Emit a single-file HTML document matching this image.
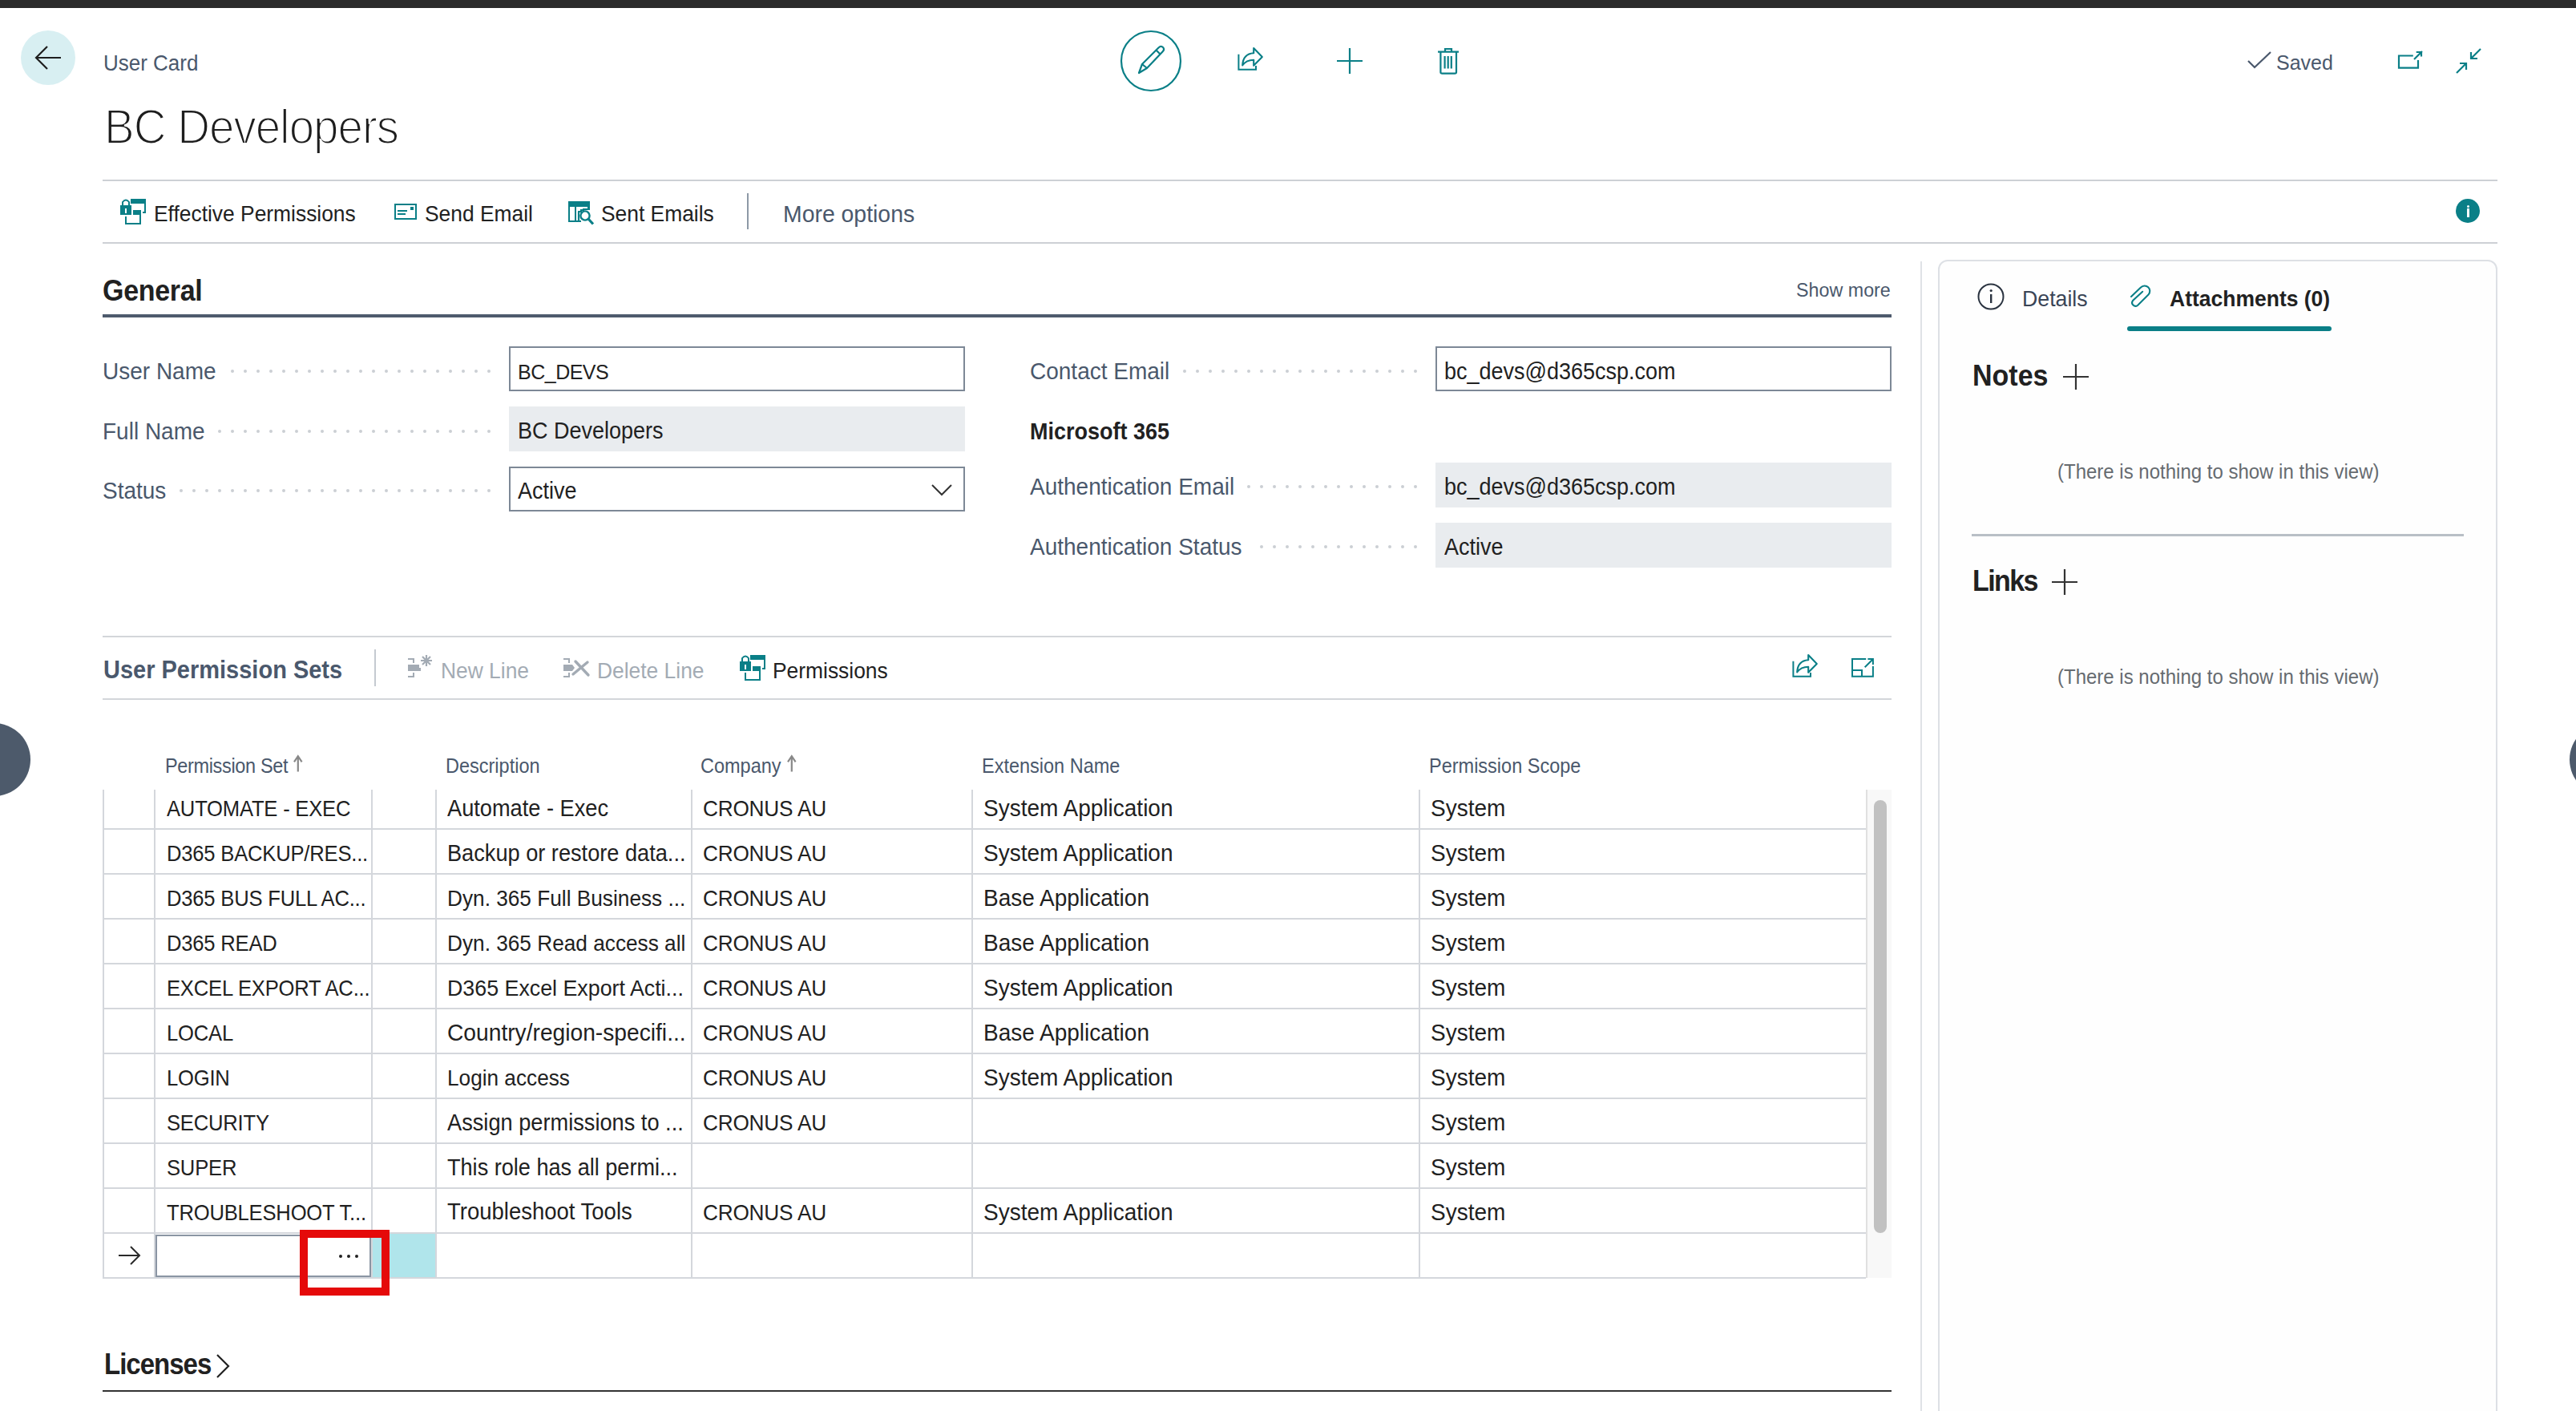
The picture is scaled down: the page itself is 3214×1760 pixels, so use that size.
<!DOCTYPE html>
<html><head><meta charset="utf-8"><title>User Card</title>
<style>
html,body{margin:0;padding:0;background:#fff;}
body{width:3214px;height:1760px;position:relative;overflow:hidden;font-family:"Liberation Sans",sans-serif;}
.t{position:absolute;white-space:nowrap;line-height:1;}
.r{position:absolute;}
svg.r{overflow:visible}
</style></head><body>
<div class="r" style="left:0px;top:0px;width:3214px;height:10px;background:#2b2b2b;"></div>
<div class="r" style="left:26px;top:38px;width:68px;height:68px;border-radius:50%;background:#d8eff2"></div>
<svg class="r" style="left:40px;top:54px" width="40" height="36" viewBox="0 0 40 36"><path d="M6 18 H36 M19 4 L5 18 L19 32" fill="none" stroke="#1f1f1f" stroke-width="2.2"/></svg>
<div class="t" style="left:129.0px;top:64.7px;font-size:27.56px;color:#4a586c;font-weight:400;transform:scaleX(0.9434);transform-origin:0 0;">User Card</div>
<div class="t" style="left:129.5px;top:128.3px;font-size:60.74px;color:#1e1e1e;font-weight:400;letter-spacing:-1.07px;transform:scaleX(0.9302);transform-origin:0 0;-webkit-text-stroke:2px #fff;">BC Developers</div>
<svg class="r" style="left:1396px;top:36px" width="80" height="80" viewBox="0 0 80 80"><circle cx="40" cy="40" r="37" fill="none" stroke="#0a7f87" stroke-width="2.2"/><path d="M25 55 L29 44 L49.5 23.5 Q52.5 20.5 55 23 Q57.5 25.5 54.5 28.5 L35 49 Z M29 44 L35 49 M46.5 26.5 L52 32" fill="none" stroke="#0a7f87" stroke-width="2.2" stroke-linejoin="round"/></svg>
<svg class="r" style="left:1540px;top:57px" width="40" height="36" viewBox="0 0 40 36"><path d="M5.4 10.8 V29.7 H27 V25" fill="none" stroke="#0a7f87" stroke-width="2"/><path d="M10.2 24.5 Q11 10 24.2 9.3 V3 L34.8 14 L24.2 24.8 V17.7 Q15 17.7 10.2 24.5 Z" fill="none" stroke="#0a7f87" stroke-width="2.1" stroke-linejoin="round"/></svg>
<svg class="r" style="left:1664px;top:56px" width="40" height="40" viewBox="0 0 40 40"><path d="M20 4 V36 M4 20 H36" fill="none" stroke="#0a7f87" stroke-width="2.2"/></svg>
<svg class="r" style="left:1790px;top:56px" width="36" height="40" viewBox="0 0 36 40"><path d="M4 8.7 H30 M13 8.7 V5 H21 V8.7 M7.4 8.7 V34 Q7.4 35.7 9.4 35.7 H25 Q27 35.7 27 34 V8.7 M12.6 14 V29.6 M16.7 14 V29.6 M20.8 14 V29.6" fill="none" stroke="#0a7f87" stroke-width="2.2"/></svg>
<svg class="r" style="left:2802px;top:62px" width="36" height="28" viewBox="0 0 36 28"><path d="M3 14 L11 22 L31 3" fill="none" stroke="#4a586c" stroke-width="2.2"/></svg>
<div class="t" style="left:2840.0px;top:64.5px;font-size:26.50px;color:#4a586c;font-weight:400;transform:scaleX(0.9434);transform-origin:0 0;">Saved</div>
<svg class="r" style="left:2988px;top:60px" width="40" height="30" viewBox="0 0 40 30"><path d="M22.8 9.5 H5 V24.6 H29 V15 M24 14 L34 4 M26.7 5 H33 V10.4" fill="none" stroke="#0a7f87" stroke-width="2.2"/></svg>
<svg class="r" style="left:3060px;top:56px" width="40" height="40" viewBox="0 0 40 40"><path d="M5 35 L17 23 M9 23 H17 V31 M35 5 L23 17 M23 9 V17 H31" fill="none" stroke="#0a7f87" stroke-width="2.2"/></svg>
<div class="r" style="left:128px;top:224px;width:2988px;height:2px;background:#cdd0d5;"></div>
<div class="r" style="left:128px;top:302px;width:2988px;height:2px;background:#cdd0d5;"></div>
<svg class="r" style="left:144px;top:242px" width="44" height="44" viewBox="0 0 44 44"><g transform="translate(6,14)" fill="#0a7f87"><rect x="0" y="0" width="14" height="12"/><rect x="6" y="4" width="2" height="6" fill="#fff"/><path d="M3 0 V-4 Q7 -9 11 -4 V0" fill="none" stroke="#0a7f87" stroke-width="2"/><rect x="13" y="-8" width="19" height="6"/><rect x="30" y="-8" width="2" height="18"/><rect x="28" y="8" width="4" height="2"/><rect x="16" y="6" width="10" height="6"/><rect x="24" y="6" width="2" height="18"/><rect x="6" y="22" width="20" height="2"/><rect x="6" y="14" width="2" height="10"/></g></svg>
<div class="t" style="left:192.0px;top:253.3px;font-size:27.98px;color:#212121;font-weight:400;transform:scaleX(0.9434);transform-origin:0 0;">Effective Permissions</div>
<svg class="r" style="left:486px;top:246px" width="40" height="36" viewBox="0 0 40 36"><rect x="7" y="9" width="26" height="18" fill="none" stroke="#0a7f87" stroke-width="2"/><rect x="10" y="16" width="12" height="2" fill="#0a7f87"/><rect x="10" y="20" width="10" height="2" fill="#0a7f87"/><rect x="26" y="12" width="4" height="4" fill="#0a7f87"/></svg>
<div class="t" style="left:530.0px;top:253.3px;font-size:27.98px;color:#212121;font-weight:400;transform:scaleX(0.9434);transform-origin:0 0;">Send Email</div>
<svg class="r" style="left:704px;top:246px" width="44" height="40" viewBox="0 0 44 40"><path d="M5 6 H31 V16 M6 6 V30 H21" fill="none" stroke="#0a7f87" stroke-width="2"/><rect x="5" y="6" width="26" height="6" fill="#0a7f87"/><rect x="13" y="12" width="2" height="17" fill="#0a7f87"/><path d="M17 18 H21 V16 H25 M18 18 V29" fill="none" stroke="#0a7f87" stroke-width="2.2"/><rect x="23" y="12" width="8" height="4" fill="#0a7f87"/><rect x="23" y="12" width="6" height="2" fill="#fff"/><circle cx="26" cy="23" r="5.6" fill="#fff" stroke="#0a7f87" stroke-width="2.4"/><path d="M30 27 L36 33.5" stroke="#0a7f87" stroke-width="3.2"/></svg>
<div class="t" style="left:750.0px;top:253.3px;font-size:27.98px;color:#212121;font-weight:400;transform:scaleX(0.9434);transform-origin:0 0;">Sent Emails</div>
<div class="r" style="left:932px;top:241px;width:2px;height:45px;background:#8d99a6;"></div>
<div class="t" style="left:977.0px;top:251.6px;font-size:30.10px;color:#4a586c;font-weight:400;transform:scaleX(0.9434);transform-origin:0 0;">More options</div>
<div class="r" style="left:3064px;top:248px;width:30px;height:30px;border-radius:50%;background:#0a7f87"></div>
<div class="r" style="left:3077.5px;top:260px;width:3px;height:11px;background:#fff;"></div>
<div class="r" style="left:3077.5px;top:255.5px;width:3px;height:3px;border-radius:50%;background:#fff"></div>
<div class="t" style="left:128.0px;top:344.8px;font-size:36.04px;color:#212121;font-weight:700;letter-spacing:-0.32px;transform:scaleX(0.9434);transform-origin:0 0;">General</div>
<div class="t" style="left:2241.0px;top:350.0px;font-size:24.70px;color:#4a586c;font-weight:400;transform:scaleX(0.9434);transform-origin:0 0;">Show more</div>
<div class="r" style="left:128px;top:392px;width:2232px;height:4px;background:#4e5b6d;"></div>
<div class="t" style="left:128.0px;top:448.0px;font-size:29.68px;color:#4a586c;font-weight:400;transform:scaleX(0.9434);transform-origin:0 0;">User Name</div>
<div class="r" style="left:608px;top:461px;width:4px;height:4px;border-radius:50%;background:#cbcfd4"></div>
<div class="r" style="left:592px;top:461px;width:4px;height:4px;border-radius:50%;background:#cbcfd4"></div>
<div class="r" style="left:576px;top:461px;width:4px;height:4px;border-radius:50%;background:#cbcfd4"></div>
<div class="r" style="left:560px;top:461px;width:4px;height:4px;border-radius:50%;background:#cbcfd4"></div>
<div class="r" style="left:544px;top:461px;width:4px;height:4px;border-radius:50%;background:#cbcfd4"></div>
<div class="r" style="left:528px;top:461px;width:4px;height:4px;border-radius:50%;background:#cbcfd4"></div>
<div class="r" style="left:512px;top:461px;width:4px;height:4px;border-radius:50%;background:#cbcfd4"></div>
<div class="r" style="left:496px;top:461px;width:4px;height:4px;border-radius:50%;background:#cbcfd4"></div>
<div class="r" style="left:480px;top:461px;width:4px;height:4px;border-radius:50%;background:#cbcfd4"></div>
<div class="r" style="left:464px;top:461px;width:4px;height:4px;border-radius:50%;background:#cbcfd4"></div>
<div class="r" style="left:448px;top:461px;width:4px;height:4px;border-radius:50%;background:#cbcfd4"></div>
<div class="r" style="left:432px;top:461px;width:4px;height:4px;border-radius:50%;background:#cbcfd4"></div>
<div class="r" style="left:416px;top:461px;width:4px;height:4px;border-radius:50%;background:#cbcfd4"></div>
<div class="r" style="left:400px;top:461px;width:4px;height:4px;border-radius:50%;background:#cbcfd4"></div>
<div class="r" style="left:384px;top:461px;width:4px;height:4px;border-radius:50%;background:#cbcfd4"></div>
<div class="r" style="left:368px;top:461px;width:4px;height:4px;border-radius:50%;background:#cbcfd4"></div>
<div class="r" style="left:352px;top:461px;width:4px;height:4px;border-radius:50%;background:#cbcfd4"></div>
<div class="r" style="left:336px;top:461px;width:4px;height:4px;border-radius:50%;background:#cbcfd4"></div>
<div class="r" style="left:320px;top:461px;width:4px;height:4px;border-radius:50%;background:#cbcfd4"></div>
<div class="r" style="left:304px;top:461px;width:4px;height:4px;border-radius:50%;background:#cbcfd4"></div>
<div class="r" style="left:288px;top:461px;width:4px;height:4px;border-radius:50%;background:#cbcfd4"></div>
<div class="r" style="left:635px;top:432px;width:569px;height:56px;box-sizing:border-box;border:2px solid #7d8896;background:#fff"></div>
<div class="t" style="left:646.0px;top:450.5px;font-size:26.50px;color:#212121;font-weight:400;letter-spacing:-0.53px;transform:scaleX(0.9434);transform-origin:0 0;">BC_DEVS</div>
<div class="t" style="left:128.0px;top:522.5px;font-size:29.68px;color:#4a586c;font-weight:400;transform:scaleX(0.9434);transform-origin:0 0;">Full Name</div>
<div class="r" style="left:608px;top:535.5px;width:4px;height:4px;border-radius:50%;background:#cbcfd4"></div>
<div class="r" style="left:592px;top:535.5px;width:4px;height:4px;border-radius:50%;background:#cbcfd4"></div>
<div class="r" style="left:576px;top:535.5px;width:4px;height:4px;border-radius:50%;background:#cbcfd4"></div>
<div class="r" style="left:560px;top:535.5px;width:4px;height:4px;border-radius:50%;background:#cbcfd4"></div>
<div class="r" style="left:544px;top:535.5px;width:4px;height:4px;border-radius:50%;background:#cbcfd4"></div>
<div class="r" style="left:528px;top:535.5px;width:4px;height:4px;border-radius:50%;background:#cbcfd4"></div>
<div class="r" style="left:512px;top:535.5px;width:4px;height:4px;border-radius:50%;background:#cbcfd4"></div>
<div class="r" style="left:496px;top:535.5px;width:4px;height:4px;border-radius:50%;background:#cbcfd4"></div>
<div class="r" style="left:480px;top:535.5px;width:4px;height:4px;border-radius:50%;background:#cbcfd4"></div>
<div class="r" style="left:464px;top:535.5px;width:4px;height:4px;border-radius:50%;background:#cbcfd4"></div>
<div class="r" style="left:448px;top:535.5px;width:4px;height:4px;border-radius:50%;background:#cbcfd4"></div>
<div class="r" style="left:432px;top:535.5px;width:4px;height:4px;border-radius:50%;background:#cbcfd4"></div>
<div class="r" style="left:416px;top:535.5px;width:4px;height:4px;border-radius:50%;background:#cbcfd4"></div>
<div class="r" style="left:400px;top:535.5px;width:4px;height:4px;border-radius:50%;background:#cbcfd4"></div>
<div class="r" style="left:384px;top:535.5px;width:4px;height:4px;border-radius:50%;background:#cbcfd4"></div>
<div class="r" style="left:368px;top:535.5px;width:4px;height:4px;border-radius:50%;background:#cbcfd4"></div>
<div class="r" style="left:352px;top:535.5px;width:4px;height:4px;border-radius:50%;background:#cbcfd4"></div>
<div class="r" style="left:336px;top:535.5px;width:4px;height:4px;border-radius:50%;background:#cbcfd4"></div>
<div class="r" style="left:320px;top:535.5px;width:4px;height:4px;border-radius:50%;background:#cbcfd4"></div>
<div class="r" style="left:304px;top:535.5px;width:4px;height:4px;border-radius:50%;background:#cbcfd4"></div>
<div class="r" style="left:288px;top:535.5px;width:4px;height:4px;border-radius:50%;background:#cbcfd4"></div>
<div class="r" style="left:272px;top:535.5px;width:4px;height:4px;border-radius:50%;background:#cbcfd4"></div>
<div class="r" style="left:635px;top:507px;width:569px;height:56px;background:#e9ecef;"></div>
<div class="t" style="left:646.0px;top:523.3px;font-size:28.62px;color:#212121;font-weight:400;transform:scaleX(0.9434);transform-origin:0 0;">BC Developers</div>
<div class="t" style="left:128.0px;top:597.0px;font-size:29.68px;color:#4a586c;font-weight:400;transform:scaleX(0.9434);transform-origin:0 0;">Status</div>
<div class="r" style="left:608px;top:610px;width:4px;height:4px;border-radius:50%;background:#cbcfd4"></div>
<div class="r" style="left:592px;top:610px;width:4px;height:4px;border-radius:50%;background:#cbcfd4"></div>
<div class="r" style="left:576px;top:610px;width:4px;height:4px;border-radius:50%;background:#cbcfd4"></div>
<div class="r" style="left:560px;top:610px;width:4px;height:4px;border-radius:50%;background:#cbcfd4"></div>
<div class="r" style="left:544px;top:610px;width:4px;height:4px;border-radius:50%;background:#cbcfd4"></div>
<div class="r" style="left:528px;top:610px;width:4px;height:4px;border-radius:50%;background:#cbcfd4"></div>
<div class="r" style="left:512px;top:610px;width:4px;height:4px;border-radius:50%;background:#cbcfd4"></div>
<div class="r" style="left:496px;top:610px;width:4px;height:4px;border-radius:50%;background:#cbcfd4"></div>
<div class="r" style="left:480px;top:610px;width:4px;height:4px;border-radius:50%;background:#cbcfd4"></div>
<div class="r" style="left:464px;top:610px;width:4px;height:4px;border-radius:50%;background:#cbcfd4"></div>
<div class="r" style="left:448px;top:610px;width:4px;height:4px;border-radius:50%;background:#cbcfd4"></div>
<div class="r" style="left:432px;top:610px;width:4px;height:4px;border-radius:50%;background:#cbcfd4"></div>
<div class="r" style="left:416px;top:610px;width:4px;height:4px;border-radius:50%;background:#cbcfd4"></div>
<div class="r" style="left:400px;top:610px;width:4px;height:4px;border-radius:50%;background:#cbcfd4"></div>
<div class="r" style="left:384px;top:610px;width:4px;height:4px;border-radius:50%;background:#cbcfd4"></div>
<div class="r" style="left:368px;top:610px;width:4px;height:4px;border-radius:50%;background:#cbcfd4"></div>
<div class="r" style="left:352px;top:610px;width:4px;height:4px;border-radius:50%;background:#cbcfd4"></div>
<div class="r" style="left:336px;top:610px;width:4px;height:4px;border-radius:50%;background:#cbcfd4"></div>
<div class="r" style="left:320px;top:610px;width:4px;height:4px;border-radius:50%;background:#cbcfd4"></div>
<div class="r" style="left:304px;top:610px;width:4px;height:4px;border-radius:50%;background:#cbcfd4"></div>
<div class="r" style="left:288px;top:610px;width:4px;height:4px;border-radius:50%;background:#cbcfd4"></div>
<div class="r" style="left:272px;top:610px;width:4px;height:4px;border-radius:50%;background:#cbcfd4"></div>
<div class="r" style="left:256px;top:610px;width:4px;height:4px;border-radius:50%;background:#cbcfd4"></div>
<div class="r" style="left:240px;top:610px;width:4px;height:4px;border-radius:50%;background:#cbcfd4"></div>
<div class="r" style="left:224px;top:610px;width:4px;height:4px;border-radius:50%;background:#cbcfd4"></div>
<div class="r" style="left:635px;top:582px;width:569px;height:56px;box-sizing:border-box;border:2px solid #7d8896;background:#fff"></div>
<div class="t" style="left:646.0px;top:597.8px;font-size:28.62px;color:#212121;font-weight:400;transform:scaleX(0.9434);transform-origin:0 0;">Active</div>
<svg class="r" style="left:1160px;top:600px" width="32" height="24" viewBox="0 0 32 24"><path d="M3 5 L15 17 L27 5" fill="none" stroke="#333" stroke-width="2"/></svg>
<div class="t" style="left:1284.5px;top:448.0px;font-size:29.68px;color:#4a586c;font-weight:400;transform:scaleX(0.9434);transform-origin:0 0;">Contact Email</div>
<div class="r" style="left:1764px;top:461px;width:4px;height:4px;border-radius:50%;background:#cbcfd4"></div>
<div class="r" style="left:1748px;top:461px;width:4px;height:4px;border-radius:50%;background:#cbcfd4"></div>
<div class="r" style="left:1732px;top:461px;width:4px;height:4px;border-radius:50%;background:#cbcfd4"></div>
<div class="r" style="left:1716px;top:461px;width:4px;height:4px;border-radius:50%;background:#cbcfd4"></div>
<div class="r" style="left:1700px;top:461px;width:4px;height:4px;border-radius:50%;background:#cbcfd4"></div>
<div class="r" style="left:1684px;top:461px;width:4px;height:4px;border-radius:50%;background:#cbcfd4"></div>
<div class="r" style="left:1668px;top:461px;width:4px;height:4px;border-radius:50%;background:#cbcfd4"></div>
<div class="r" style="left:1652px;top:461px;width:4px;height:4px;border-radius:50%;background:#cbcfd4"></div>
<div class="r" style="left:1636px;top:461px;width:4px;height:4px;border-radius:50%;background:#cbcfd4"></div>
<div class="r" style="left:1620px;top:461px;width:4px;height:4px;border-radius:50%;background:#cbcfd4"></div>
<div class="r" style="left:1604px;top:461px;width:4px;height:4px;border-radius:50%;background:#cbcfd4"></div>
<div class="r" style="left:1588px;top:461px;width:4px;height:4px;border-radius:50%;background:#cbcfd4"></div>
<div class="r" style="left:1572px;top:461px;width:4px;height:4px;border-radius:50%;background:#cbcfd4"></div>
<div class="r" style="left:1556px;top:461px;width:4px;height:4px;border-radius:50%;background:#cbcfd4"></div>
<div class="r" style="left:1540px;top:461px;width:4px;height:4px;border-radius:50%;background:#cbcfd4"></div>
<div class="r" style="left:1524px;top:461px;width:4px;height:4px;border-radius:50%;background:#cbcfd4"></div>
<div class="r" style="left:1508px;top:461px;width:4px;height:4px;border-radius:50%;background:#cbcfd4"></div>
<div class="r" style="left:1492px;top:461px;width:4px;height:4px;border-radius:50%;background:#cbcfd4"></div>
<div class="r" style="left:1476px;top:461px;width:4px;height:4px;border-radius:50%;background:#cbcfd4"></div>
<div class="r" style="left:1791px;top:432px;width:569px;height:56px;box-sizing:border-box;border:2px solid #7d8896;background:#fff"></div>
<div class="t" style="left:1802.0px;top:448.8px;font-size:28.62px;color:#212121;font-weight:400;transform:scaleX(0.9434);transform-origin:0 0;">bc_devs@d365csp.com</div>
<div class="t" style="left:1284.5px;top:523.8px;font-size:28.62px;color:#212121;font-weight:700;transform:scaleX(0.9434);transform-origin:0 0;">Microsoft 365</div>
<div class="t" style="left:1284.5px;top:592.0px;font-size:29.68px;color:#4a586c;font-weight:400;transform:scaleX(0.9434);transform-origin:0 0;">Authentication Email</div>
<div class="r" style="left:1764px;top:605px;width:4px;height:4px;border-radius:50%;background:#cbcfd4"></div>
<div class="r" style="left:1748px;top:605px;width:4px;height:4px;border-radius:50%;background:#cbcfd4"></div>
<div class="r" style="left:1732px;top:605px;width:4px;height:4px;border-radius:50%;background:#cbcfd4"></div>
<div class="r" style="left:1716px;top:605px;width:4px;height:4px;border-radius:50%;background:#cbcfd4"></div>
<div class="r" style="left:1700px;top:605px;width:4px;height:4px;border-radius:50%;background:#cbcfd4"></div>
<div class="r" style="left:1684px;top:605px;width:4px;height:4px;border-radius:50%;background:#cbcfd4"></div>
<div class="r" style="left:1668px;top:605px;width:4px;height:4px;border-radius:50%;background:#cbcfd4"></div>
<div class="r" style="left:1652px;top:605px;width:4px;height:4px;border-radius:50%;background:#cbcfd4"></div>
<div class="r" style="left:1636px;top:605px;width:4px;height:4px;border-radius:50%;background:#cbcfd4"></div>
<div class="r" style="left:1620px;top:605px;width:4px;height:4px;border-radius:50%;background:#cbcfd4"></div>
<div class="r" style="left:1604px;top:605px;width:4px;height:4px;border-radius:50%;background:#cbcfd4"></div>
<div class="r" style="left:1588px;top:605px;width:4px;height:4px;border-radius:50%;background:#cbcfd4"></div>
<div class="r" style="left:1572px;top:605px;width:4px;height:4px;border-radius:50%;background:#cbcfd4"></div>
<div class="r" style="left:1556px;top:605px;width:4px;height:4px;border-radius:50%;background:#cbcfd4"></div>
<div class="r" style="left:1791px;top:577px;width:569px;height:56px;background:#e9ecef;"></div>
<div class="t" style="left:1802.0px;top:592.8px;font-size:28.62px;color:#212121;font-weight:400;transform:scaleX(0.9434);transform-origin:0 0;">bc_devs@d365csp.com</div>
<div class="t" style="left:1284.5px;top:666.7px;font-size:29.68px;color:#4a586c;font-weight:400;transform:scaleX(0.9434);transform-origin:0 0;">Authentication Status</div>
<div class="r" style="left:1764px;top:679.7px;width:4px;height:4px;border-radius:50%;background:#cbcfd4"></div>
<div class="r" style="left:1748px;top:679.7px;width:4px;height:4px;border-radius:50%;background:#cbcfd4"></div>
<div class="r" style="left:1732px;top:679.7px;width:4px;height:4px;border-radius:50%;background:#cbcfd4"></div>
<div class="r" style="left:1716px;top:679.7px;width:4px;height:4px;border-radius:50%;background:#cbcfd4"></div>
<div class="r" style="left:1700px;top:679.7px;width:4px;height:4px;border-radius:50%;background:#cbcfd4"></div>
<div class="r" style="left:1684px;top:679.7px;width:4px;height:4px;border-radius:50%;background:#cbcfd4"></div>
<div class="r" style="left:1668px;top:679.7px;width:4px;height:4px;border-radius:50%;background:#cbcfd4"></div>
<div class="r" style="left:1652px;top:679.7px;width:4px;height:4px;border-radius:50%;background:#cbcfd4"></div>
<div class="r" style="left:1636px;top:679.7px;width:4px;height:4px;border-radius:50%;background:#cbcfd4"></div>
<div class="r" style="left:1620px;top:679.7px;width:4px;height:4px;border-radius:50%;background:#cbcfd4"></div>
<div class="r" style="left:1604px;top:679.7px;width:4px;height:4px;border-radius:50%;background:#cbcfd4"></div>
<div class="r" style="left:1588px;top:679.7px;width:4px;height:4px;border-radius:50%;background:#cbcfd4"></div>
<div class="r" style="left:1572px;top:679.7px;width:4px;height:4px;border-radius:50%;background:#cbcfd4"></div>
<div class="r" style="left:1791px;top:652px;width:569px;height:56px;background:#e9ecef;"></div>
<div class="t" style="left:1802.0px;top:667.5px;font-size:28.62px;color:#212121;font-weight:400;transform:scaleX(0.9434);transform-origin:0 0;">Active</div>
<div class="r" style="left:2396px;top:326px;width:2px;height:1434px;background:#dfe2e6;"></div>
<div class="r" style="left:2418px;top:324px;width:698px;height:1500px;box-sizing:border-box;border:2px solid #dde0e5;border-radius:12px;background:#fefefe"></div>
<svg class="r" style="left:2466px;top:352px" width="36" height="36" viewBox="0 0 36 36"><circle cx="18" cy="18" r="15.5" fill="none" stroke="#2a3340" stroke-width="2"/><rect x="17" y="15" width="2.4" height="11" fill="#2a3340"/><circle cx="18.2" cy="10.5" r="1.6" fill="#2a3340"/></svg>
<div class="t" style="left:2523.0px;top:358.1px;font-size:28.30px;color:#3a4556;font-weight:400;transform:scaleX(0.9434);transform-origin:0 0;">Details</div>
<svg class="r" style="left:2650px;top:350px" width="40" height="40" viewBox="0 0 40 40"><path d="M9 20 L21 8.5 A6.5 6.5 0 0 1 30.5 17.5 L17 31 A4.3 4.3 0 0 1 11 25 L23.2 13.8" fill="none" stroke="#0a7f87" stroke-width="2.1" stroke-linecap="round"/></svg>
<div class="t" style="left:2707.0px;top:359.2px;font-size:28.09px;color:#212121;font-weight:700;transform:scaleX(0.9434);transform-origin:0 0;">Attachments (0)</div>
<div class="r" style="left:2654px;top:407px;width:255px;height:6px;border-radius:3px;background:#0a7f87"></div>
<div class="t" style="left:2461.0px;top:451.4px;font-size:36.04px;color:#212121;font-weight:700;transform:scaleX(0.9434);transform-origin:0 0;">Notes</div>
<svg class="r" style="left:2572px;top:452px" width="36" height="36" viewBox="0 0 36 36"><path d="M18 2 V34 M2 18 H34" stroke="#333" stroke-width="2.2"/></svg>
<div class="t" style="left:2567.0px;top:575.8px;font-size:25.44px;color:#666b70;font-weight:400;transform:scaleX(0.9434);transform-origin:0 0;">(There is nothing to show in this view)</div>
<div class="r" style="left:2460px;top:666px;width:614px;height:3px;background:#b9bfc6;"></div>
<div class="t" style="left:2461.0px;top:707.2px;font-size:36.04px;color:#212121;font-weight:700;letter-spacing:-1.70px;transform:scaleX(0.9434);transform-origin:0 0;">Links</div>
<svg class="r" style="left:2558px;top:708px" width="36" height="36" viewBox="0 0 36 36"><path d="M18 2 V34 M2 18 H34" stroke="#333" stroke-width="2.2"/></svg>
<div class="t" style="left:2567.0px;top:831.6px;font-size:25.44px;color:#666b70;font-weight:400;transform:scaleX(0.9434);transform-origin:0 0;">(There is nothing to show in this view)</div>
<div class="r" style="left:128px;top:793px;width:2232px;height:2px;background:#d3d6da;"></div>
<div class="r" style="left:128px;top:871px;width:2232px;height:2px;background:#d3d6da;"></div>
<div class="t" style="left:128.5px;top:821.1px;font-size:30.74px;color:#4a586c;font-weight:700;transform:scaleX(0.9434);transform-origin:0 0;">User Permission Sets</div>
<div class="r" style="left:467px;top:810px;width:2px;height:46px;background:#c5cad0;"></div>
<svg class="r" style="left:496px;top:808px" width="44" height="44" viewBox="0 0 44 44"><g fill="#a3abb4"><rect x="13" y="13" width="8" height="2"/><rect x="19" y="13" width="2" height="6"/><rect x="13" y="21" width="14" height="8"/><rect x="26" y="25" width="3" height="4"/><rect x="19" y="31" width="2" height="6"/><rect x="13" y="35" width="8" height="2"/></g><path d="M36 9 V23 M29 16 H43 M31 11 L41 21 M41 11 L31 21" stroke="#a3abb4" stroke-width="2.2"/></svg>
<div class="t" style="left:550.0px;top:823.3px;font-size:27.98px;color:#a3abb4;font-weight:400;transform:scaleX(0.9434);transform-origin:0 0;">New Line</div>
<svg class="r" style="left:692px;top:808px" width="44" height="44" viewBox="0 0 44 44"><g fill="#a3abb4"><rect x="11" y="13" width="8" height="2"/><rect x="17" y="13" width="2" height="6"/><path d="M11 21 H22 L25 25 L22 29 H11 Z"/><rect x="17" y="31" width="2" height="6"/><rect x="11" y="35" width="8" height="2"/></g><path d="M26 17 L42 34 M23 33 L41 18" stroke="#a3abb4" stroke-width="3.4" stroke-linecap="round"/></svg>
<div class="t" style="left:745.0px;top:823.3px;font-size:27.98px;color:#a3abb4;font-weight:400;transform:scaleX(0.9434);transform-origin:0 0;">Delete Line</div>
<svg class="r" style="left:917px;top:811px" width="44" height="44" viewBox="0 0 44 44"><g transform="translate(6,14)" fill="#0a7f87"><rect x="0" y="0" width="14" height="12"/><rect x="6" y="4" width="2" height="6" fill="#fff"/><path d="M3 0 V-4 Q7 -9 11 -4 V0" fill="none" stroke="#0a7f87" stroke-width="2"/><rect x="13" y="-8" width="19" height="6"/><rect x="30" y="-8" width="2" height="18"/><rect x="28" y="8" width="4" height="2"/><rect x="16" y="6" width="10" height="6"/><rect x="24" y="6" width="2" height="18"/><rect x="6" y="22" width="20" height="2"/><rect x="6" y="14" width="2" height="10"/></g></svg>
<div class="t" style="left:964.0px;top:823.3px;font-size:27.98px;color:#212121;font-weight:400;transform:scaleX(0.9434);transform-origin:0 0;">Permissions</div>
<svg class="r" style="left:2232px;top:814px" width="40" height="36" viewBox="0 0 40 36"><path d="M5.4 10.8 V29.7 H27 V25" fill="none" stroke="#0a7f87" stroke-width="2"/><path d="M10.2 24.5 Q11 10 24.2 9.3 V3 L34.8 14 L24.2 24.8 V17.7 Q15 17.7 10.2 24.5 Z" fill="none" stroke="#0a7f87" stroke-width="2.1" stroke-linejoin="round"/></svg>
<svg class="r" style="left:2306px;top:817px" width="36" height="32" viewBox="0 0 36 32"><path d="M22.2 5 H5 V26.7 H30.9 V14 M24.4 5 H30.9 V11.9 M5 19 H17 V26.7 M20.7 15.3 L30.5 5.5" fill="none" stroke="#0a7f87" stroke-width="2"/></svg>
<div class="t" style="left:205.7px;top:942.8px;font-size:24.91px;color:#4a586c;font-weight:400;letter-spacing:-0.37px;transform:scaleX(0.9434);transform-origin:0 0;">Permission Set</div>
<svg class="r" style="left:363px;top:938px" width="18" height="28" viewBox="0 0 18 28"><path d="M8.8 5.5 V24.6 M4 12.4 L8.8 5.2 L13.6 12.4" fill="none" stroke="#888" stroke-width="2.2"/></svg>
<div class="t" style="left:555.7px;top:942.8px;font-size:24.91px;color:#4a586c;font-weight:400;transform:scaleX(0.9434);transform-origin:0 0;">Description</div>
<div class="t" style="left:873.6px;top:942.8px;font-size:24.91px;color:#4a586c;font-weight:400;transform:scaleX(0.9434);transform-origin:0 0;">Company</div>
<svg class="r" style="left:979px;top:938px" width="18" height="28" viewBox="0 0 18 28"><path d="M8.8 5.5 V24.6 M4 12.4 L8.8 5.2 L13.6 12.4" fill="none" stroke="#888" stroke-width="2.2"/></svg>
<div class="t" style="left:1225.0px;top:942.8px;font-size:24.91px;color:#4a586c;font-weight:400;transform:scaleX(0.9434);transform-origin:0 0;">Extension Name</div>
<div class="t" style="left:1783.0px;top:942.8px;font-size:24.91px;color:#4a586c;font-weight:400;transform:scaleX(0.9434);transform-origin:0 0;">Permission Scope</div>
<div class="r" style="left:128px;top:985px;width:2px;height:609px;background:#d4d7dc;"></div>
<div class="r" style="left:192px;top:985px;width:2px;height:609px;background:#d4d7dc;"></div>
<div class="r" style="left:463px;top:985px;width:2px;height:609px;background:#d4d7dc;"></div>
<div class="r" style="left:543px;top:985px;width:2px;height:609px;background:#d4d7dc;"></div>
<div class="r" style="left:862px;top:985px;width:2px;height:609px;background:#d4d7dc;"></div>
<div class="r" style="left:1212px;top:985px;width:2px;height:609px;background:#d4d7dc;"></div>
<div class="r" style="left:1770px;top:985px;width:2px;height:609px;background:#d4d7dc;"></div>
<div class="r" style="left:128px;top:1033px;width:2200px;height:2px;background:#d4d7dc;"></div>
<div class="r" style="left:128px;top:1089px;width:2200px;height:2px;background:#d4d7dc;"></div>
<div class="r" style="left:128px;top:1145px;width:2200px;height:2px;background:#d4d7dc;"></div>
<div class="r" style="left:128px;top:1201px;width:2200px;height:2px;background:#d4d7dc;"></div>
<div class="r" style="left:128px;top:1257px;width:2200px;height:2px;background:#d4d7dc;"></div>
<div class="r" style="left:128px;top:1313px;width:2200px;height:2px;background:#d4d7dc;"></div>
<div class="r" style="left:128px;top:1369px;width:2200px;height:2px;background:#d4d7dc;"></div>
<div class="r" style="left:128px;top:1425px;width:2200px;height:2px;background:#d4d7dc;"></div>
<div class="r" style="left:128px;top:1481px;width:2200px;height:2px;background:#d4d7dc;"></div>
<div class="r" style="left:128px;top:1537px;width:2200px;height:2px;background:#d4d7dc;"></div>
<div class="r" style="left:128px;top:1593px;width:2200px;height:2px;background:#d4d7dc;"></div>
<div class="t" style="left:207.5px;top:995.0px;font-size:27.14px;color:#212121;font-weight:400;letter-spacing:-0.21px;transform:scaleX(0.9434);transform-origin:0 0;">AUTOMATE - EXEC</div>
<div class="t" style="left:558.0px;top:993.6px;font-size:28.83px;color:#212121;font-weight:400;transform:scaleX(0.9434);transform-origin:0 0;">Automate - Exec</div>
<div class="t" style="left:876.5px;top:994.5px;font-size:27.77px;color:#212121;font-weight:400;letter-spacing:-0.21px;transform:scaleX(0.9434);transform-origin:0 0;">CRONUS AU</div>
<div class="t" style="left:1227.0px;top:993.0px;font-size:29.68px;color:#212121;font-weight:400;transform:scaleX(0.9434);transform-origin:0 0;">System Application</div>
<div class="t" style="left:1785.0px;top:993.0px;font-size:29.68px;color:#212121;font-weight:400;transform:scaleX(0.9434);transform-origin:0 0;">System</div>
<div class="t" style="left:207.5px;top:1051.0px;font-size:27.14px;color:#212121;font-weight:400;letter-spacing:-0.21px;transform:scaleX(0.9434);transform-origin:0 0;">D365 BACKUP/RES...</div>
<div class="t" style="left:558.0px;top:1049.7px;font-size:28.80px;color:#212121;font-weight:400;transform:scaleX(0.9434);transform-origin:0 0;">Backup or restore data...</div>
<div class="t" style="left:876.5px;top:1050.5px;font-size:27.77px;color:#212121;font-weight:400;letter-spacing:-0.21px;transform:scaleX(0.9434);transform-origin:0 0;">CRONUS AU</div>
<div class="t" style="left:1227.0px;top:1049.0px;font-size:29.68px;color:#212121;font-weight:400;transform:scaleX(0.9434);transform-origin:0 0;">System Application</div>
<div class="t" style="left:1785.0px;top:1049.0px;font-size:29.68px;color:#212121;font-weight:400;transform:scaleX(0.9434);transform-origin:0 0;">System</div>
<div class="t" style="left:207.5px;top:1107.0px;font-size:27.14px;color:#212121;font-weight:400;letter-spacing:-0.21px;transform:scaleX(0.9434);transform-origin:0 0;">D365 BUS FULL AC...</div>
<div class="t" style="left:558.0px;top:1106.5px;font-size:27.81px;color:#212121;font-weight:400;transform:scaleX(0.9434);transform-origin:0 0;">Dyn. 365 Full Business ...</div>
<div class="t" style="left:876.5px;top:1106.5px;font-size:27.77px;color:#212121;font-weight:400;letter-spacing:-0.21px;transform:scaleX(0.9434);transform-origin:0 0;">CRONUS AU</div>
<div class="t" style="left:1227.0px;top:1105.0px;font-size:29.68px;color:#212121;font-weight:400;transform:scaleX(0.9434);transform-origin:0 0;">Base Application</div>
<div class="t" style="left:1785.0px;top:1105.0px;font-size:29.68px;color:#212121;font-weight:400;transform:scaleX(0.9434);transform-origin:0 0;">System</div>
<div class="t" style="left:207.5px;top:1163.0px;font-size:27.14px;color:#212121;font-weight:400;letter-spacing:-0.21px;transform:scaleX(0.9434);transform-origin:0 0;">D365 READ</div>
<div class="t" style="left:558.0px;top:1162.5px;font-size:27.81px;color:#212121;font-weight:400;transform:scaleX(0.9434);transform-origin:0 0;">Dyn. 365 Read access all</div>
<div class="t" style="left:876.5px;top:1162.5px;font-size:27.77px;color:#212121;font-weight:400;letter-spacing:-0.21px;transform:scaleX(0.9434);transform-origin:0 0;">CRONUS AU</div>
<div class="t" style="left:1227.0px;top:1161.0px;font-size:29.68px;color:#212121;font-weight:400;transform:scaleX(0.9434);transform-origin:0 0;">Base Application</div>
<div class="t" style="left:1785.0px;top:1161.0px;font-size:29.68px;color:#212121;font-weight:400;transform:scaleX(0.9434);transform-origin:0 0;">System</div>
<div class="t" style="left:207.5px;top:1219.0px;font-size:27.14px;color:#212121;font-weight:400;letter-spacing:-0.21px;transform:scaleX(0.9434);transform-origin:0 0;">EXCEL EXPORT AC...</div>
<div class="t" style="left:558.0px;top:1218.0px;font-size:28.41px;color:#212121;font-weight:400;transform:scaleX(0.9434);transform-origin:0 0;">D365 Excel Export Acti...</div>
<div class="t" style="left:876.5px;top:1218.5px;font-size:27.77px;color:#212121;font-weight:400;letter-spacing:-0.21px;transform:scaleX(0.9434);transform-origin:0 0;">CRONUS AU</div>
<div class="t" style="left:1227.0px;top:1217.0px;font-size:29.68px;color:#212121;font-weight:400;transform:scaleX(0.9434);transform-origin:0 0;">System Application</div>
<div class="t" style="left:1785.0px;top:1217.0px;font-size:29.68px;color:#212121;font-weight:400;transform:scaleX(0.9434);transform-origin:0 0;">System</div>
<div class="t" style="left:207.5px;top:1275.0px;font-size:27.14px;color:#212121;font-weight:400;letter-spacing:-0.21px;transform:scaleX(0.9434);transform-origin:0 0;">LOCAL</div>
<div class="t" style="left:558.0px;top:1272.8px;font-size:29.89px;color:#212121;font-weight:400;transform:scaleX(0.9434);transform-origin:0 0;">Country/region-specifi...</div>
<div class="t" style="left:876.5px;top:1274.5px;font-size:27.77px;color:#212121;font-weight:400;letter-spacing:-0.21px;transform:scaleX(0.9434);transform-origin:0 0;">CRONUS AU</div>
<div class="t" style="left:1227.0px;top:1273.0px;font-size:29.68px;color:#212121;font-weight:400;transform:scaleX(0.9434);transform-origin:0 0;">Base Application</div>
<div class="t" style="left:1785.0px;top:1273.0px;font-size:29.68px;color:#212121;font-weight:400;transform:scaleX(0.9434);transform-origin:0 0;">System</div>
<div class="t" style="left:207.5px;top:1331.0px;font-size:27.14px;color:#212121;font-weight:400;letter-spacing:-0.21px;transform:scaleX(0.9434);transform-origin:0 0;">LOGIN</div>
<div class="t" style="left:558.0px;top:1330.5px;font-size:27.77px;color:#212121;font-weight:400;transform:scaleX(0.9434);transform-origin:0 0;">Login access</div>
<div class="t" style="left:876.5px;top:1330.5px;font-size:27.77px;color:#212121;font-weight:400;letter-spacing:-0.21px;transform:scaleX(0.9434);transform-origin:0 0;">CRONUS AU</div>
<div class="t" style="left:1227.0px;top:1329.0px;font-size:29.68px;color:#212121;font-weight:400;transform:scaleX(0.9434);transform-origin:0 0;">System Application</div>
<div class="t" style="left:1785.0px;top:1329.0px;font-size:29.68px;color:#212121;font-weight:400;transform:scaleX(0.9434);transform-origin:0 0;">System</div>
<div class="t" style="left:207.5px;top:1387.0px;font-size:27.14px;color:#212121;font-weight:400;letter-spacing:-0.21px;transform:scaleX(0.9434);transform-origin:0 0;">SECURITY</div>
<div class="t" style="left:558.0px;top:1385.6px;font-size:28.83px;color:#212121;font-weight:400;transform:scaleX(0.9434);transform-origin:0 0;">Assign permissions to ...</div>
<div class="t" style="left:876.5px;top:1386.5px;font-size:27.77px;color:#212121;font-weight:400;letter-spacing:-0.21px;transform:scaleX(0.9434);transform-origin:0 0;">CRONUS AU</div>
<div class="t" style="left:1785.0px;top:1385.0px;font-size:29.68px;color:#212121;font-weight:400;transform:scaleX(0.9434);transform-origin:0 0;">System</div>
<div class="t" style="left:207.5px;top:1443.0px;font-size:27.14px;color:#212121;font-weight:400;letter-spacing:-0.21px;transform:scaleX(0.9434);transform-origin:0 0;">SUPER</div>
<div class="t" style="left:558.0px;top:1441.7px;font-size:28.73px;color:#212121;font-weight:400;transform:scaleX(0.9434);transform-origin:0 0;">This role has all permi...</div>
<div class="t" style="left:1785.0px;top:1441.0px;font-size:29.68px;color:#212121;font-weight:400;transform:scaleX(0.9434);transform-origin:0 0;">System</div>
<div class="t" style="left:207.5px;top:1499.0px;font-size:27.14px;color:#212121;font-weight:400;letter-spacing:-0.21px;transform:scaleX(0.9434);transform-origin:0 0;">TROUBLESHOOT T...</div>
<div class="t" style="left:558.0px;top:1497.4px;font-size:29.15px;color:#212121;font-weight:400;transform:scaleX(0.9434);transform-origin:0 0;">Troubleshoot Tools</div>
<div class="t" style="left:876.5px;top:1498.5px;font-size:27.77px;color:#212121;font-weight:400;letter-spacing:-0.21px;transform:scaleX(0.9434);transform-origin:0 0;">CRONUS AU</div>
<div class="t" style="left:1227.0px;top:1497.0px;font-size:29.68px;color:#212121;font-weight:400;transform:scaleX(0.9434);transform-origin:0 0;">System Application</div>
<div class="t" style="left:1785.0px;top:1497.0px;font-size:29.68px;color:#212121;font-weight:400;transform:scaleX(0.9434);transform-origin:0 0;">System</div>
<div class="r" style="left:2328px;top:985px;width:32px;height:609px;background:#f8f8f8;border-left:2px solid #e0e0e0;box-sizing:border-box"></div>
<div class="r" style="left:2338px;top:998px;width:16px;height:540px;border-radius:8px;background:#c1c1c1"></div>
<svg class="r" style="left:144px;top:1552px" width="34" height="28" viewBox="0 0 34 28"><path d="M4 14 H30 M19 3 L30 14 L19 25" fill="none" stroke="#2a2a2a" stroke-width="2"/></svg>
<div class="r" style="left:194px;top:1540px;width:269px;height:53px;box-sizing:border-box;border:2px solid #8a95a3;background:#fff"></div>
<div class="r" style="left:423px;top:1565px;width:4px;height:4px;border-radius:50%;background:#222"></div>
<div class="r" style="left:433px;top:1565px;width:4px;height:4px;border-radius:50%;background:#222"></div>
<div class="r" style="left:443px;top:1565px;width:4px;height:4px;border-radius:50%;background:#222"></div>
<div class="r" style="left:465px;top:1539px;width:78px;height:54px;background:#b0e5eb;"></div>
<div class="r" style="left:374px;top:1534px;width:112px;height:82px;box-sizing:border-box;border:10px solid #e50a0a"></div>
<div class="t" style="left:129.5px;top:1684.4px;font-size:36.30px;color:#212121;font-weight:700;letter-spacing:-1.10px;transform:scaleX(0.9091);transform-origin:0 0;">Licenses</div>
<svg class="r" style="left:266px;top:1686px" width="24" height="36" viewBox="0 0 24 36"><path d="M5 4 L19 18 L5 32" fill="none" stroke="#222" stroke-width="2.2"/></svg>
<div class="r" style="left:128px;top:1734px;width:2232px;height:2px;background:#333;"></div>
<div class="r" style="left:-53px;top:902px;width:91px;height:91px;border-radius:50%;background:#4d5a6b"></div>
<div class="r" style="left:3206px;top:902px;width:91px;height:91px;border-radius:50%;background:#4d5a6b"></div>
</body></html>
